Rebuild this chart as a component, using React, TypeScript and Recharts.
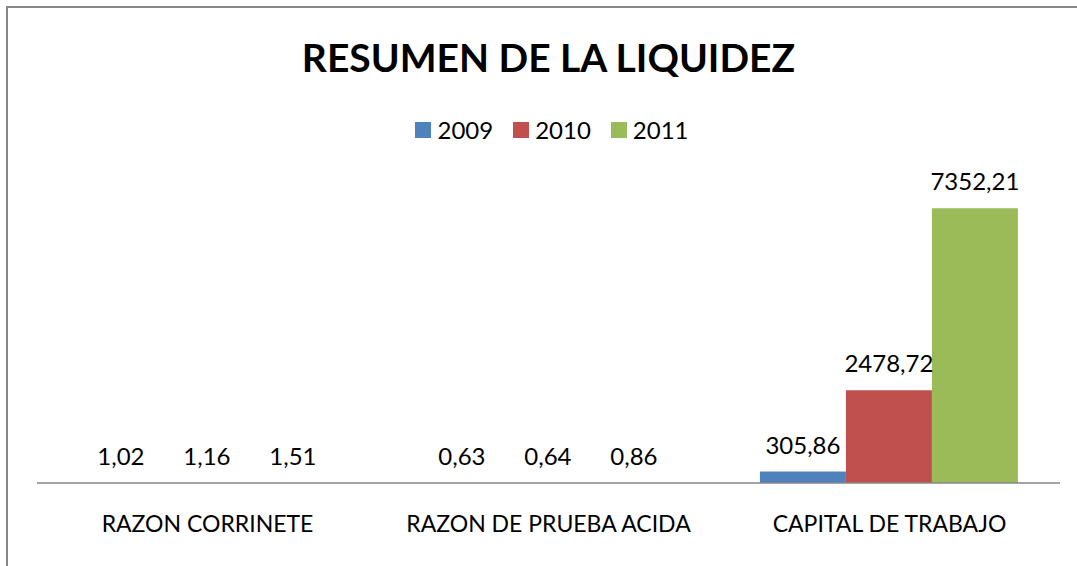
import React from 'react';
import { BarChart, Bar, XAxis, YAxis, LabelList } from 'recharts';

const categories = ['RAZON CORRINETE', 'RAZON DE PRUEBA ACIDA', 'CAPITAL DE TRABAJO'];
const years = ['2009', '2010', '2011'];
const values2009 = [1.02, 0.63, 305.86];
const values2010 = [1.16, 0.64, 2478.72];
const values2011 = [1.51, 0.86, 7352.21];
const colors = ['#4F81BD', '#C0504D', '#9BBB59'];

const data = categories.map((name, i) => ({
  name,
  '2009': values2009[i],
  '2010': values2010[i],
  '2011': values2011[i],
}));

const font = 'Lato, "Open Sans", sans-serif';
const fmt = (v: any) => Number(v).toFixed(2).replace('.', ',');

export default function App() {
  return (
    <div style={{ position: 'absolute', left: 0, top: 0, width: 1077, height: 566, overflow: 'hidden', background: '#fff', fontFamily: font }}>
      <div
        style={{
          position: 'absolute',
          left: 6,
          top: 6,
          width: 1100,
          height: 600,
          border: '2px solid #878787',
        }}
      />
      <div
        style={{
          position: 'absolute',
          left: 0,
          width: 1097,
          top: 33,
          textAlign: 'center',
          fontSize: 39,
          fontWeight: 'bold',
          lineHeight: '48px',
          color: '#000',
        }}
      >
        RESUMEN DE LA LIQUIDEZ
      </div>
      <div
        style={{
          position: 'absolute',
          left: 0,
          width: 1104,
          top: 116,
          display: 'flex',
          justifyContent: 'center',
          fontSize: 24,
          lineHeight: '28px',
          color: '#000',
        }}
      >
        {years.map((y, i) => (
          <div key={y} style={{ display: 'flex', alignItems: 'center', marginRight: i < 2 ? 20 : 0 }}>
            <span style={{ width: 16, height: 16, background: colors[i], marginRight: 6, display: 'inline-block' }} />
            <span>{y}</span>
          </div>
        ))}
      </div>
      <div style={{ position: 'absolute', left: 0, top: 0 }}>
        <BarChart
          width={1077}
          height={566}
          data={data}
          margin={{ top: 184, right: 17, left: 37, bottom: 23 }}
          barGap={0}
          barCategoryGap="12%"
        >
          <XAxis
            dataKey="name"
            height={60}
            tickLine={false}
            tickMargin={27}
            axisLine={{ stroke: '#868686', strokeWidth: 1.5 }}
            tick={{ fill: '#000', fontSize: 23, fontFamily: font }}
            interval={0}
          />
          <YAxis hide domain={[0, 8000]} />
          {years.map((y, i) => (
            <Bar key={y} dataKey={y} fill={colors[i]} isAnimationActive={false}>
              <LabelList
                dataKey={y}
                position="top"
                offset={18}
                formatter={fmt}
                style={{ fill: '#000', fontSize: 24, fontFamily: font }}
              />
            </Bar>
          ))}
        </BarChart>
      </div>
    </div>
  );
}
